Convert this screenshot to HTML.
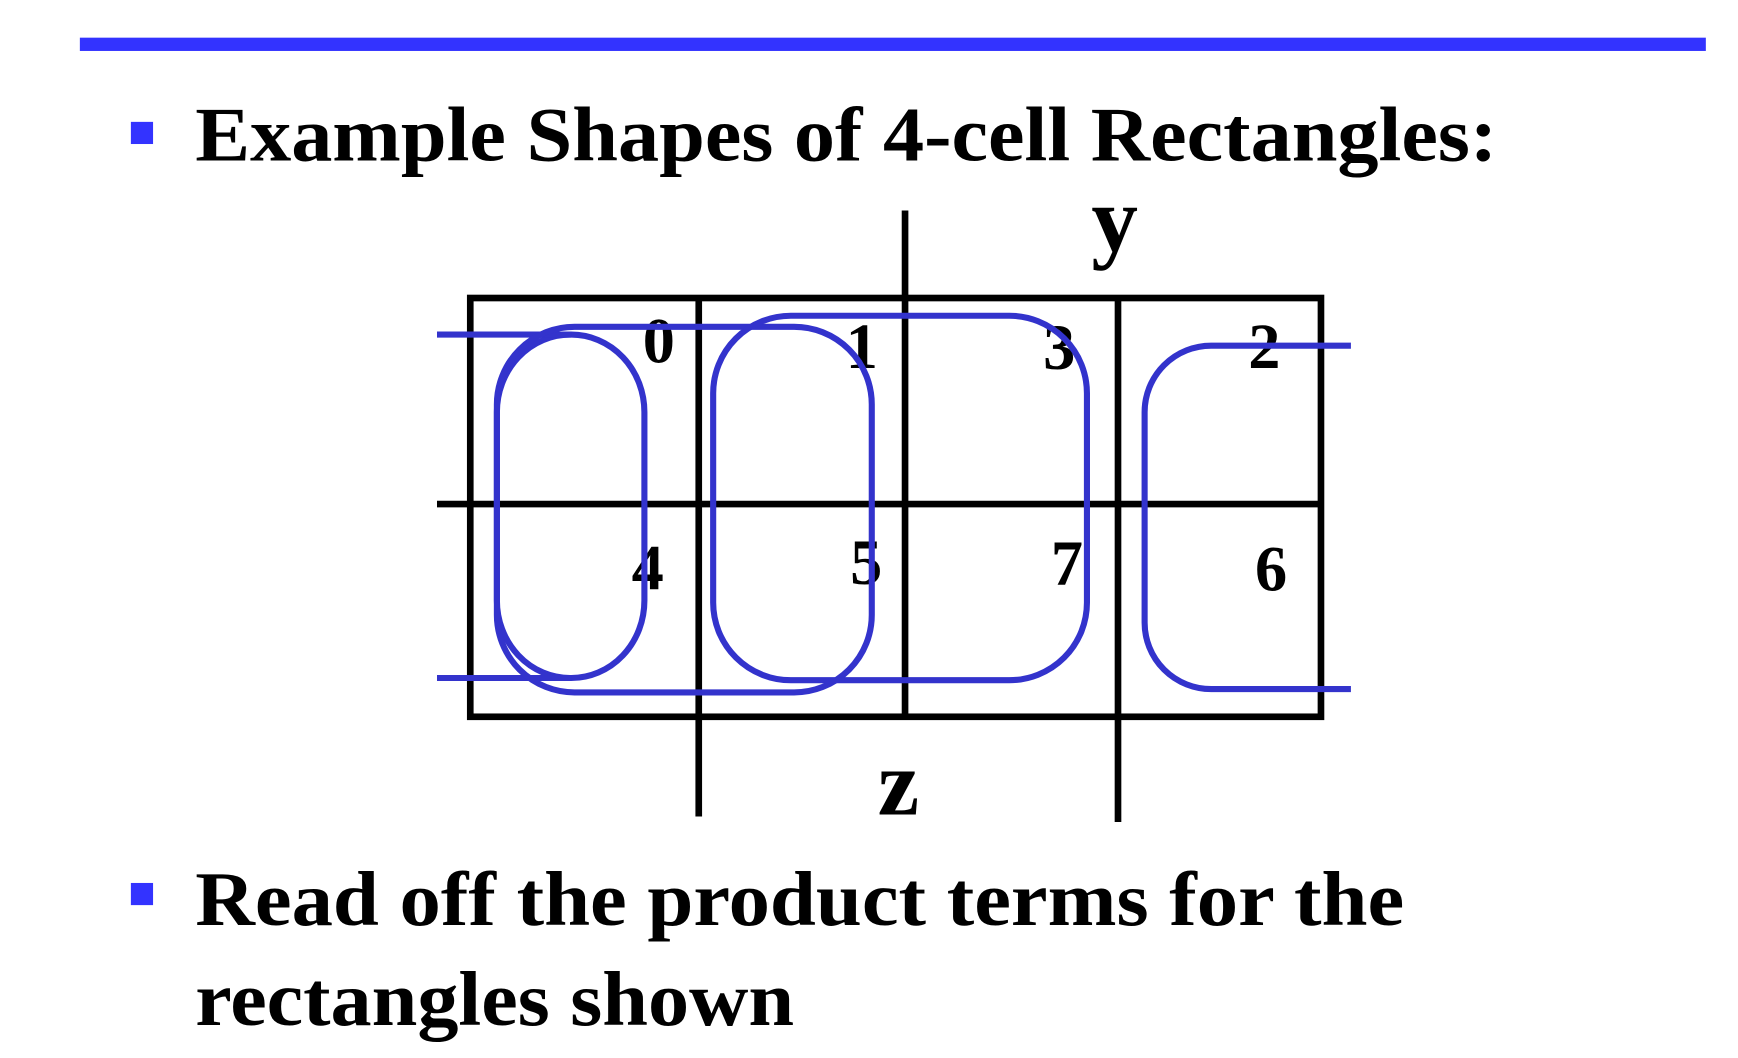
<!DOCTYPE html>
<html><head><meta charset="utf-8"><style>html,body{margin:0;padding:0;background:#fff;}svg{display:block}</style></head>
<body>
<svg width="1738" height="1058" viewBox="0 0 1567 955" preserveAspectRatio="none" xmlns="http://www.w3.org/2000/svg">
<rect x="72" y="34" width="1466" height="12" fill="#3333ff"/>
<rect x="118" y="110" width="20" height="20" fill="#3333ff"/>
<rect x="118" y="797" width="20" height="20" fill="#3333ff"/>
<g font-family="Liberation Serif, serif" font-weight="bold" fill="#000">
<text x="176" y="145" font-size="70" textLength="1174" lengthAdjust="spacingAndGlyphs">Example Shapes of 4-cell Rectangles:</text>
<text x="176" y="835" font-size="70" textLength="1090" lengthAdjust="spacingAndGlyphs">Read off the product terms for the</text>
<text x="176" y="925" font-size="70" textLength="540" lengthAdjust="spacingAndGlyphs">rectangles shown</text>
<text x="1005" y="226" font-size="84" text-anchor="middle">y</text>
<text x="810" y="735" font-size="84" text-anchor="middle">z</text>
<g font-size="58" text-anchor="middle">
<text x="594" y="327">0</text><text x="777" y="332">1</text><text x="955" y="333">3</text><text x="1140" y="332">2</text>
<text x="584" y="532">4</text><text x="781" y="527">5</text><text x="962" y="528">7</text><text x="1146" y="533">6</text>
</g>
</g>
<g stroke="#000" stroke-width="6" fill="none">
<rect x="424" y="269" width="767" height="378"/>
<line x1="816" y1="190" x2="816" y2="647"/>
<line x1="630" y1="269" x2="630" y2="737"/>
<line x1="1008" y1="269" x2="1008" y2="742"/>
<line x1="394" y1="455" x2="1191" y2="455"/>
</g>
<g stroke="#3333cc" stroke-width="5.5" fill="none">
<rect x="448" y="302" width="133" height="310" rx="66" ry="70"/>
<line x1="394" y1="302" x2="515" y2="302"/>
<line x1="394" y1="612" x2="515" y2="612"/>
<rect x="448" y="295" width="338" height="330" rx="70"/>
<rect x="643" y="285" width="337" height="329" rx="70"/>
<path d="M1218 312 H1092 A60 60 0 0 0 1032 372 V562 A60 60 0 0 0 1092 622 H1218"/>
</g>
</svg>
</body></html>
